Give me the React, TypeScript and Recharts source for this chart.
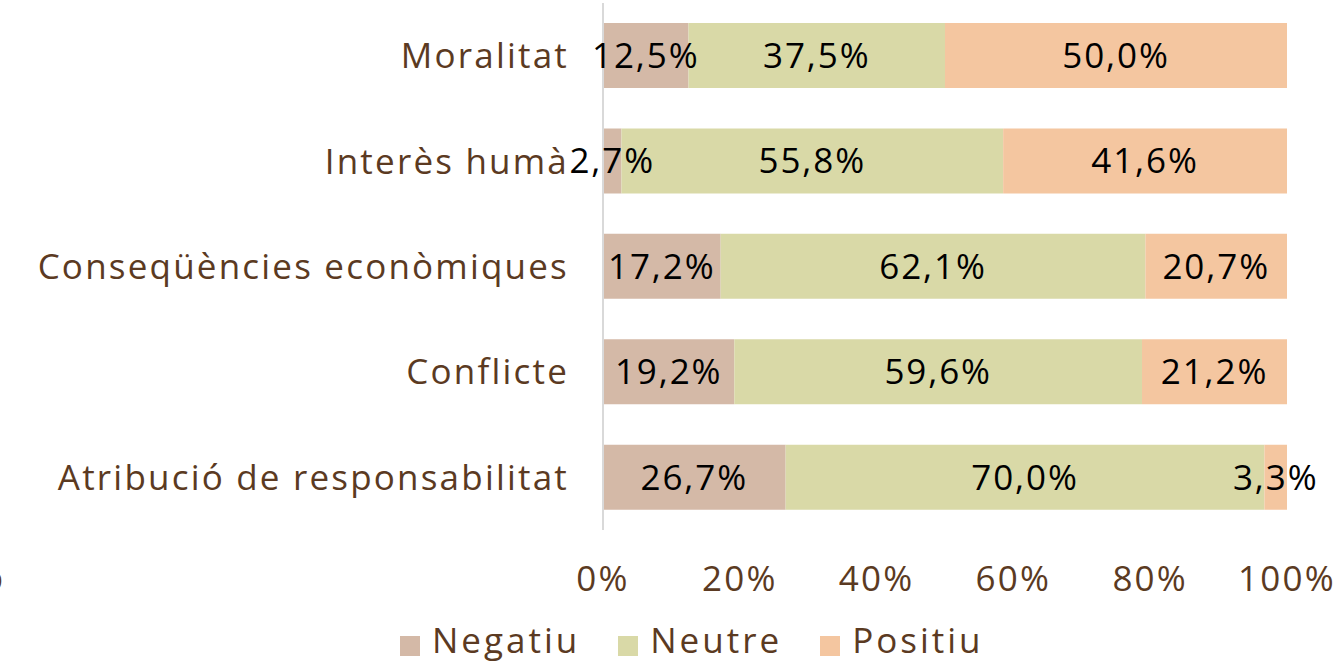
import React from "react";
import { BarChart, Bar, XAxis, YAxis, Legend, LabelList } from "recharts";

const categories = [
  "Moralitat",
  "Interès humà",
  "Conseqüències econòmiques",
  "Conflicte",
  "Atribució de responsabilitat",
];
const negatiu = [12.5, 2.7, 17.2, 19.2, 26.7];
const neutre = [37.5, 55.8, 62.1, 59.6, 70.0];
const positiu = [50.0, 41.6, 20.7, 21.2, 3.3];
const xTicks = [0, 20, 40, 60, 80, 100];

const seriesNames = ["Negatiu", "Neutre", "Positiu"];
const colors = ["#d4b9a7", "#d9d9a7", "#f4c6a0"];

const data = categories.map((name, i) => ({
  name,
  Negatiu: negatiu[i],
  Neutre: neutre[i],
  Positiu: positiu[i],
}));

const FONT = "'Open Sans', 'Noto Sans', sans-serif";
const BROWN = "#5b3a22";
const LS = "2.2px";
const fmt = (v: any) => `${Number(v).toFixed(1).replace(".", ",")}%`;

const renderLegend = () => (
  <div
    style={{
      display: "flex",
      justifyContent: "flex-start",
      alignItems: "flex-start",
      fontFamily: FONT,
      fontSize: 35,
      letterSpacing: "3px",
      color: BROWN,
      height: 60,
      paddingLeft: 400,
      boxSizing: "border-box",
    }}
  >
    {seriesNames.map((n, i) => (
      <div
        key={n}
        style={{ display: "flex", alignItems: "center", marginRight: i < 2 ? 38 : 0, marginTop: 17 }}
      >
        <span
          style={{
            display: "inline-block",
            width: 20,
            height: 20,
            background: colors[i],
            marginRight: 12,
            position: "relative",
            top: 6,
          }}
        />
        <span style={{ lineHeight: "36px", display: "block", height: 36 }}>{n}</span>
      </div>
    ))}
  </div>
);

export default function App() {
  return (
    <div style={{ position: "absolute", left: 0, top: 0, width: 1342, height: 665, background: "#fff", overflow: "hidden" }}>
      <BarChart
        width={1342}
        height={665}
        data={data}
        layout="vertical"
        margin={{ top: 3, right: 55, left: 0, bottom: 0 }}
        barCategoryGap="19%"
      >
        <XAxis
          type="number"
          domain={[0, 100]}
          ticks={xTicks}
          allowDataOverflow
          tickFormatter={(v) => `${v}%`}
          axisLine={false}
          tickLine={false}
          tickMargin={30}
          height={75}
          tick={{ fill: BROWN, fontSize: 35, fontFamily: FONT, letterSpacing: LS }}
          interval={0}
        />
        <YAxis
          type="category"
          dataKey="name"
          width={603}
          axisLine={{ stroke: "#d9d9d9", strokeWidth: 2 }}
          tickLine={false}
          tickMargin={28}
          tick={{ fill: BROWN, fontSize: 35, fontFamily: FONT, letterSpacing: LS }}
          interval={0}
        />
        <Legend verticalAlign="bottom" height={60} content={renderLegend} />
        {seriesNames.map((n, i) => (
          <Bar key={n} dataKey={n} stackId="a" fill={colors[i]} isAnimationActive={false}>
            <LabelList
              dataKey={n}
              position="center"
              formatter={fmt}
              style={{ fill: "#000", fontSize: 35, fontFamily: FONT, letterSpacing: "1.9px" }}
            />
          </Bar>
        ))}
      </BarChart>
      <div
        style={{
          position: "absolute",
          left: -26,
          top: 556,
          fontFamily: FONT,
          fontSize: 35,
          color: BROWN,
          lineHeight: "40px",
        }}
      >
        %
      </div>
    </div>
  );
}
